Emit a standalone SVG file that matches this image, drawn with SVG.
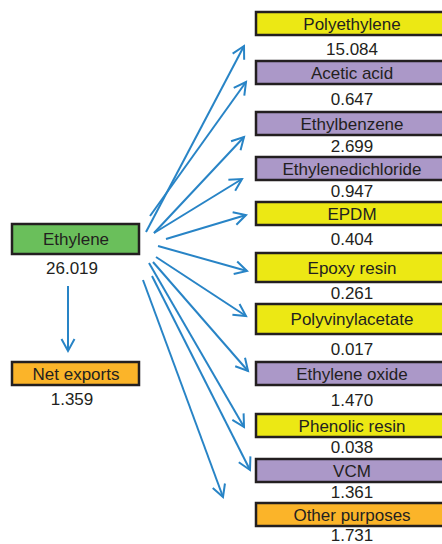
<svg xmlns="http://www.w3.org/2000/svg" width="442" height="544" viewBox="0 0 442 544">
<style>
.box{stroke:#231f20;stroke-width:2.5}
.y{fill:#ece814}
.p{fill:#ab98c8}
.g{fill:#6abf5b}
.o{fill:#fbb429}
text{font-family:"Liberation Sans",Arial,sans-serif;font-size:17px;fill:#231f20;text-anchor:middle}
.c line{stroke:#2884c6;stroke-width:2;marker-end:url(#ah)}
</style>
<defs>
<marker id="ah" markerUnits="userSpaceOnUse" orient="auto" markerWidth="20" markerHeight="20" refX="0" refY="0" viewBox="-14 -10 16 20" overflow="visible">
<path d="M-12,-6.5 L0,0 L-12,6.5" fill="none" stroke="#2884c6" stroke-width="2"/>
</marker>
</defs>
<rect width="442" height="544" fill="#ffffff"/>
<g id="ethylene"><rect class="box g" x="12" y="224" width="127" height="30"/><text x="76" y="245">Ethylene</text><text x="72" y="274">26.019</text></g>
<g id="net-exports"><rect class="box o" x="12" y="362" width="127" height="23"/><text x="76" y="380">Net exports</text><text x="72" y="405">1.359</text></g>
<g id="polyethylene"><rect class="box y" x="256" y="12" width="200" height="23"/><text x="352" y="29.5">Polyethylene</text><text x="352" y="55">15.084</text></g>
<g id="acetic-acid"><rect class="box p" x="256" y="61" width="200" height="23"/><text x="352" y="78.5">Acetic acid</text><text x="352" y="105">0.647</text></g>
<g id="ethylbenzene"><rect class="box p" x="256" y="112" width="200" height="23"/><text x="352" y="129.5">Ethylbenzene</text><text x="352" y="152">2.699</text></g>
<g id="ethylenedichloride"><rect class="box p" x="256" y="157" width="200" height="23"/><text x="352" y="174.5">Ethylenedichloride</text><text x="352" y="197">0.947</text></g>
<g id="epdm"><rect class="box y" x="256" y="202" width="200" height="23"/><text x="352" y="219.5">EPDM</text><text x="352" y="245">0.404</text></g>
<g id="epoxy-resin"><rect class="box y" x="256" y="253" width="200" height="29"/><text x="352" y="273.5">Epoxy resin</text><text x="352" y="299">0.261</text></g>
<g id="polyvinylacetate"><rect class="box y" x="256" y="304" width="200" height="30"/><text x="352" y="325">Polyvinylacetate</text><text x="352" y="355">0.017</text></g>
<g id="ethylene-oxide"><rect class="box p" x="256" y="362" width="200" height="23"/><text x="352" y="379.5">Ethylene oxide</text><text x="352" y="406">1.470</text></g>
<g id="phenolic-resin"><rect class="box y" x="256" y="414" width="200" height="23"/><text x="352" y="431.5">Phenolic resin</text><text x="352" y="453">0.038</text></g>
<g id="vcm"><rect class="box p" x="256" y="459" width="200" height="23"/><text x="352" y="476.5">VCM</text><text x="352" y="498">1.361</text></g>
<g id="other-purposes"><rect class="box o" x="256" y="503" width="200" height="23"/><text x="352" y="520.5">Other purposes</text><text x="352" y="541">1.731</text></g>
<g id="connectors" class="c">
<line x1="68" y1="286" x2="68" y2="351"/>
<line x1="146" y1="232" x2="244" y2="46"/>
<line x1="150" y1="216" x2="246" y2="82"/>
<line x1="154" y1="233" x2="244" y2="137"/>
<line x1="154" y1="233" x2="242" y2="179"/>
<line x1="166" y1="239" x2="246" y2="215"/>
<line x1="158" y1="246" x2="247" y2="271"/>
<line x1="156" y1="257" x2="246" y2="316"/>
<line x1="153" y1="262" x2="248" y2="371"/>
<line x1="149" y1="263" x2="244" y2="427"/>
<line x1="152" y1="276" x2="250" y2="470"/>
<line x1="143" y1="280" x2="223" y2="497"/>
</g>
</svg>
